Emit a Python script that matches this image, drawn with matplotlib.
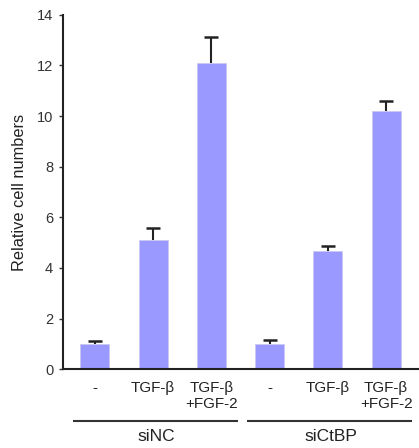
import matplotlib
matplotlib.use("Agg")
import matplotlib.pyplot as plt
import matplotlib.transforms as mtransforms

plt.rcParams['font.family'] = ['Liberation Sans', 'DejaVu Sans']

categories = ["-", "TGF-β", "TGF-β\n+FGF-2", "-", "TGF-β", "TGF-β\n+FGF-2"]
values = [1.0, 5.1, 12.08, 1.0, 4.68, 10.2]
errors = [0.1, 0.46, 1.02, 0.15, 0.18, 0.4]
groups = ["siNC", "siCtBP"]
group_members = [[0, 1, 2], [3, 4, 5]]
yticks = [0, 2, 4, 6, 8, 10, 12, 14]

fig = plt.figure(figsize=(4.19, 4.48), dpi=100)
ax = fig.add_axes([0.150, 0.1757, 0.848, 0.7915])

x = list(range(len(values)))
ax.bar(x, values, width=0.5, color='#9999FF', edgecolor='#C8C8F0', linewidth=0.6)
tops = [v + e for v, e in zip(values, errors)]
ax.errorbar(x, values, yerr=[[0] * len(errors), errors], fmt='none',
            ecolor='#222222', elinewidth=1.5, capsize=0)
ax.plot(x, tops, linestyle='none', marker='_', markersize=9.5,
        markeredgewidth=1.8, color='#222222')

ax.set_xlim(-0.55, 5.55)
ax.set_ylim(0, 14)
ax.set_yticks(yticks)
ax.set_yticklabels([str(t) for t in yticks], fontsize=10.5, color='#333333')
ax.tick_params(axis='y', direction='out', length=3, width=1, color='#333333', pad=4)
ax.set_xticks([])
for s in ['top', 'right']:
    ax.spines[s].set_visible(False)
for s in ['left', 'bottom']:
    ax.spines[s].set_linewidth(1.5)
    ax.spines[s].set_color('#222222')

ax.set_ylabel("Relative cell numbers", fontsize=11.8, color='#222222', labelpad=7)

trans = mtransforms.blended_transform_factory(ax.transData, ax.transAxes)
for xi, lab in zip(x, categories):
    ax.text(xi, -0.033, lab, transform=trans, ha='center', va='top',
            fontsize=11, color='#222222', linespacing=1.2)

for g, members in zip(groups, group_members):
    x0 = members[0] - 0.38
    x1 = members[-1] + 0.45
    ax.plot([x0, x1], [-0.145, -0.145], transform=trans, color='#333333',
            linewidth=1.5, clip_on=False, solid_capstyle='butt')
    ax.text((members[0] + members[-1]) / 2 + 0.05, -0.19, g, transform=trans,
            ha='center', va='center', fontsize=12.5, color='#222222')

fig.savefig("out.png", dpi=100)
